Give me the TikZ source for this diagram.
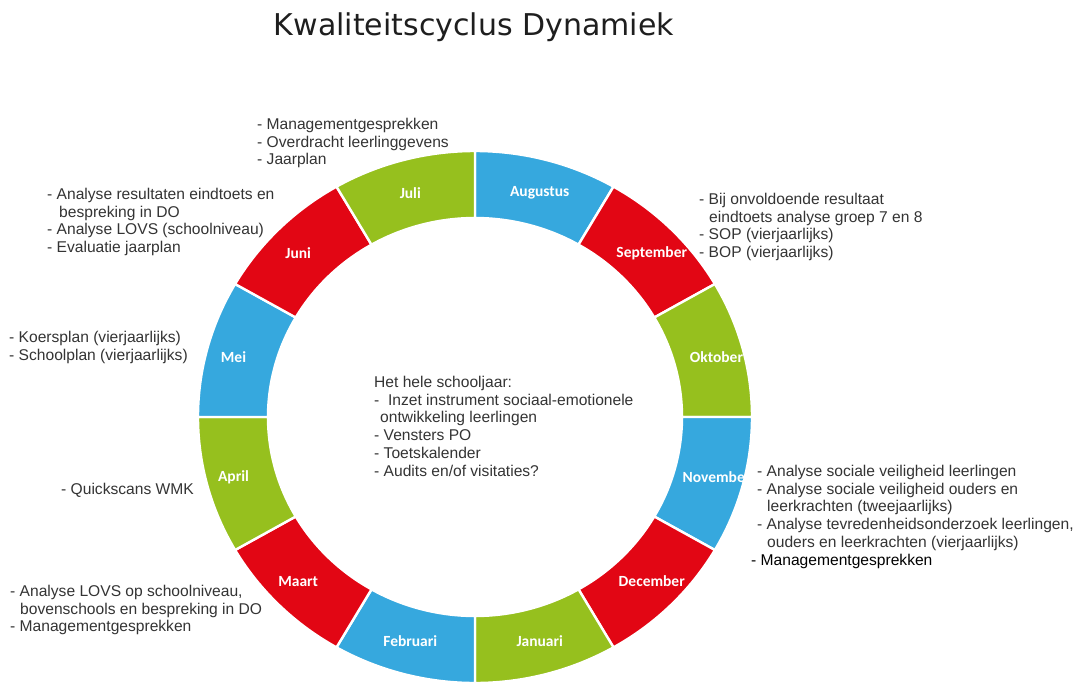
\documentclass[tikz,border=0pt]{standalone}
\usepackage{fontspec}
\setmainfont{Liberation Sans}
\newfontfamily\titlefont{DejaVu Sans}
\newfontfamily\monthfont{Carlito}
\usetikzlibrary{calc}
\definecolor{cblue}{RGB}{54,168,222}
\definecolor{cred}{RGB}{226,6,20}
\definecolor{cgreen}{RGB}{150,192,30}
\definecolor{txtgray}{RGB}{52,52,52}
\definecolor{titlegray}{RGB}{30,30,30}
\tikzset{
  seg/.style={draw=white, line width=2.4pt, line join=miter},
  monthlbl/.style={text=white, inner sep=0pt, font=\monthfont\bfseries\fontsize{15.5}{17}\selectfont},
  txt/.style={anchor=north west, align=left, inner sep=0pt, text=txtgray, font=\fontsize{15.6}{17.7}\selectfont},
  ttl/.style={anchor=base, inner sep=0pt, text=titlegray, font=\titlefont\fontsize{30}{36}\selectfont}
}
\begin{document}
\begin{tikzpicture}[x=1pt,y=1pt]
\useasboundingbox (0,0) rectangle (1077,-681);
\fill[white] (0,0) rectangle (1077,-681);
\coordinate (C) at (475,-417);
\foreach \mname/\col [count=\i from 0] in {Augustus/cblue, September/cred, Oktober/cgreen, November/cblue, December/cred, Januari/cgreen, Februari/cblue, Maart/cred, April/cgreen, Mei/cblue, Juni/cred, Juli/cgreen}{
  \pgfmathsetmacro\aa{90-30*\i}
  \pgfmathsetmacro\ab{60-30*\i}
  \pgfmathsetmacro\am{75-30*\i}
  \path[seg, fill=\col] ($(C)+(\aa:277pt and 266pt)$) arc[start angle=\aa, end angle=\ab, x radius=277pt, y radius=266pt]
     -- ($(C)+(\ab:207pt and 199pt)$) arc[start angle=\ab, end angle=\aa, x radius=207pt, y radius=199pt] -- cycle;
  \node[monthlbl] (m\i) at ($(C)+(\am:250pt and 232pt)$) {\mname};
}
\node[ttl] (title) at (474,-35) {Kwaliteitscyclus Dynamiek};
\node[txt] (juli) at (257,-118) {- Managementgesprekken\\- Overdracht leerlinggevens\\- Jaarplan};
\node[txt] (juni) at (47,-188) {- Analyse resultaten eindtoets en\\\hspace*{12pt}bespreking in DO\\- Analyse LOVS (schoolniveau)\\- Evaluatie jaarplan};
\node[txt] (sept) at (699,-193) {- Bij onvoldoende resultaat\\\hspace*{10pt}eindtoets analyse groep 7 en 8\\- SOP (vierjaarlijks)\\- BOP (vierjaarlijks)};
\node[txt] (mei) at (9,-331) {- Koersplan (vierjaarlijks)\\- Schoolplan (vierjaarlijks)};
\node[txt] (hele) at (374,-376) {Het hele schooljaar:\\-\ \ Inzet instrument sociaal-emotionele\\\hspace*{6pt}ontwikkeling leerlingen\\- Vensters PO\\- Toetskalender\\- Audits en/of visitaties?};
\node[txt] (april) at (61,-483) {- Quickscans WMK};
\node[txt] (nov) at (757,-465) {- Analyse sociale veiligheid leerlingen\\- Analyse sociale veiligheid ouders en\\\hspace*{10pt}leerkrachten (tweejaarlijks)\\- Analyse tevredenheidsonderzoek leerlingen,\\\hspace*{10pt}ouders en leerkrachten (vierjaarlijks)\\\hspace*{-6pt}\textcolor{black}{- Managementgesprekken}};
\node[txt] (maart) at (10,-585) {- Analyse LOVS op schoolniveau,\\\hspace*{10pt}bovenschools en bespreking in DO\\- Managementgesprekken};
\end{tikzpicture}
\end{document}
